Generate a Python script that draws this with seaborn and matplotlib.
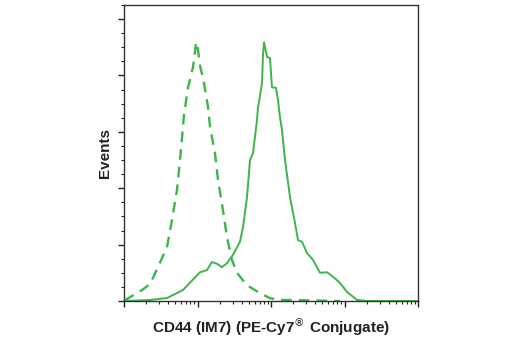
import numpy as np
import pandas as pd
import matplotlib
matplotlib.use("Agg")
import matplotlib.pyplot as plt
from matplotlib import ticker
import seaborn as sns

# Isotype control (dashed)
iso_x = [10.3, 11, 17.6, 22.6, 29, 38.5, 45, 52.6, 57.8, 63.5, 65.5, 74.3, 86.9, 95.5,
         98.5, 108, 122, 139, 148, 173, 190, 222, 252, 294, 344, 471, 708, 968, 1324, 8690]
iso_y = [0, 0.035, 0.195, 0.30, 0.60, 0.96, 1.44, 1.97, 2.50, 3.09, 3.30, 3.79, 4.15, 4.57,
         4.59, 4.18, 3.88, 3.44, 3.09, 2.62, 2.15, 1.61, 1.13, 0.73, 0.50, 0.28, 0.14, 0.05, 0.02, 0]

# CD44 (IM7) PE-Cy7 (solid)
cd44_x = [10.3, 22.6, 38.5, 63.5, 108, 135, 157, 184, 215, 252, 304, 378, 416, 471, 518,
          569, 605, 645, 666, 687, 755, 778, 803, 883, 968, 1032, 1170, 1245, 1324, 1412,
          1550, 1815, 2124, 2330, 2640, 3090, 3730, 4640, 5780, 6980, 8690, 10800, 14800,
          20200, 100000]
cd44_y = [0, 0.018, 0.053, 0.195, 0.51, 0.55, 0.69, 0.66, 0.60, 0.67, 0.82, 1.05, 1.31, 1.84,
          2.50, 2.62, 2.91, 3.21, 3.44, 3.53, 3.87, 4.36, 4.59, 4.33, 4.31, 3.79, 3.78, 3.56,
          3.26, 3.03, 2.50, 1.84, 1.38, 1.08, 1.05, 0.85, 0.73, 0.50, 0.51, 0.43, 0.32, 0.16,
          0.02, 0, 0]

xlabel = "CD44 (IM7) (PE-Cy7$^{®}$ Conjugate)"
ylabel = "Events"

sns.set_theme(style="ticks")
plt.rcParams['font.family'] = ['Liberation Sans', 'DejaVu Sans']

green = "#3cb54a"
fig = plt.figure(figsize=(5.2, 3.5), dpi=100)
ax = fig.add_axes([124/520, 1-301/350, (418-124)/520, (301-5)/350])

df_iso = pd.DataFrame({"x": iso_x, "y": iso_y})
df_cd = pd.DataFrame({"x": cd44_x, "y": cd44_y})
sns.lineplot(data=df_iso, x="x", y="y", ax=ax, color=green, lw=1.7,
             linestyle=(0, (4.5, 3.0)), sort=False)
sns.lineplot(data=df_cd, x="x", y="y", ax=ax, color=green, lw=1.4, sort=False)

ax.set_xscale("log")
ax.set_xlim(10, 1e5)
ax.set_ylim(0, 5.25)
ax.xaxis.set_major_locator(ticker.LogLocator(base=10, numticks=10))
ax.xaxis.set_minor_locator(ticker.LogLocator(base=10, subs=np.arange(2, 10), numticks=20))
ax.yaxis.set_major_locator(ticker.MultipleLocator(1))
ax.yaxis.set_minor_locator(ticker.MultipleLocator(0.25))
ax.xaxis.set_major_formatter(ticker.NullFormatter())
ax.xaxis.set_minor_formatter(ticker.NullFormatter())
ax.yaxis.set_major_formatter(ticker.NullFormatter())
ax.tick_params(axis="both", which="major", direction="out", length=4, width=1, color="#222222")
ax.tick_params(axis="both", which="minor", direction="out", length=2, width=0.8, color="#222222")
for s in ax.spines.values():
    s.set_visible(True)
    s.set_linewidth(1.0)
    s.set_color("#333333")

ax.set_xlabel(xlabel, fontsize=11, fontweight="bold", color="#222222", labelpad=3)
ax.set_ylabel(ylabel, fontsize=11, fontweight="bold", color="#222222", labelpad=1)

fig.savefig("out.png", dpi=100)
